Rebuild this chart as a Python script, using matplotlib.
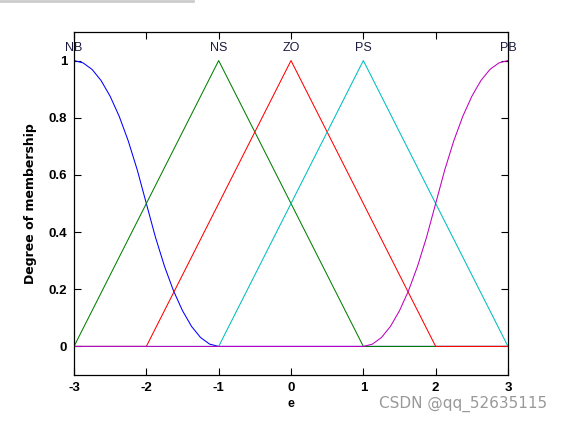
import numpy as np
import matplotlib.pyplot as plt
from matplotlib.lines import Line2D

# membership functions
x_nb = [-3, -2.875, -2.75, -2.625, -2.5, -2.375, -2.25, -2.125, -2, -1.875, -1.75,
        -1.625, -1.5, -1.375, -1.25, -1.125, -1, 3]
y_nb = [1, 0.992, 0.969, 0.930, 0.875, 0.805, 0.719, 0.617, 0.5, 0.383, 0.281,
        0.195, 0.125, 0.070, 0.031, 0.008, 0, 0]
x_ns = [-3, -1, 1, 3]
y_ns = [0, 1, 0, 0]
x_zo = [-3, -2, 0, 2, 3]
y_zo = [0, 0, 1, 0, 0]
x_ps = [-3, -1, 1, 3]
y_ps = [0, 0, 1, 0]
x_pb = [-3, 1, 1.125, 1.25, 1.375, 1.5, 1.625, 1.75, 1.875, 2, 2.125, 2.25,
        2.375, 2.5, 2.625, 2.75, 2.875, 3]
y_pb = [0, 0, 0.008, 0.031, 0.070, 0.125, 0.195, 0.281, 0.383, 0.5, 0.617, 0.719,
        0.805, 0.875, 0.930, 0.969, 0.992, 1]

mf_names = ["NB", "NS", "ZO", "PS", "PB"]
mf_peaks = [-3, -1, 0, 1, 3]

xticks = [-3, -2, -1, 0, 1, 2, 3]
yticks = [0, 0.2, 0.4, 0.6, 0.8, 1]
ytick_labels = ["0", "0.2", "0.4", "0.6", "0.8", "1"]

fig = plt.figure(figsize=(5.62, 4.22), dpi=100)
ax = fig.add_axes([74 / 562, 47 / 422, 434 / 562, 343 / 422])

ax.plot(x_nb, y_nb, color="#0000ff", lw=0.75)
ax.plot(x_ns, y_ns, color="#008000", lw=0.75)
ax.plot(x_zo, y_zo, color="#ff0000", lw=0.75)
ax.plot(x_ps, y_ps, color="#00bfbf", lw=0.75)
ax.plot(x_pb, y_pb, color="#bf00bf", lw=0.75)

for name, p in zip(mf_names, mf_peaks):
    ax.text(p, 1.045, name, ha="center", va="center", fontsize=9,
            family="Liberation Sans", color="#1a1a40")

ax.set_xlim(-3, 3)
ax.set_ylim(-0.1, 1.1)
ax.set_xticks(xticks)
ax.set_xticklabels([str(t) for t in xticks])
ax.set_yticks(yticks)
ax.set_yticklabels(ytick_labels)
ax.tick_params(direction="in", length=5, width=0.8, top=True, right=True,
               labelsize=9.5, pad=5)
for lab in ax.get_xticklabels() + ax.get_yticklabels():
    lab.set_fontweight("bold")
    lab.set_family("Liberation Sans")
for s in ax.spines.values():
    s.set_linewidth(0.9)

ax.set_xlabel("e", fontsize=9, fontweight="bold", family="Liberation Sans", labelpad=3)
ax.set_ylabel("Degree of membership", fontsize=9, fontweight="bold",
              family="Liberation Sans Narrow", labelpad=8)

# gray strip at the top of the screenshot
fig.add_artist(Line2D([0, 193 / 562], [0.998, 0.998], color="#cccccc", lw=2,
                      transform=fig.transFigure))
fig.text(0.973, 1 - 404 / 422, "CSDN @qq_52635115", ha="right", va="center",
         fontsize=11, color="#999999", family="DejaVu Sans")

fig.savefig("out.png", dpi=100)
